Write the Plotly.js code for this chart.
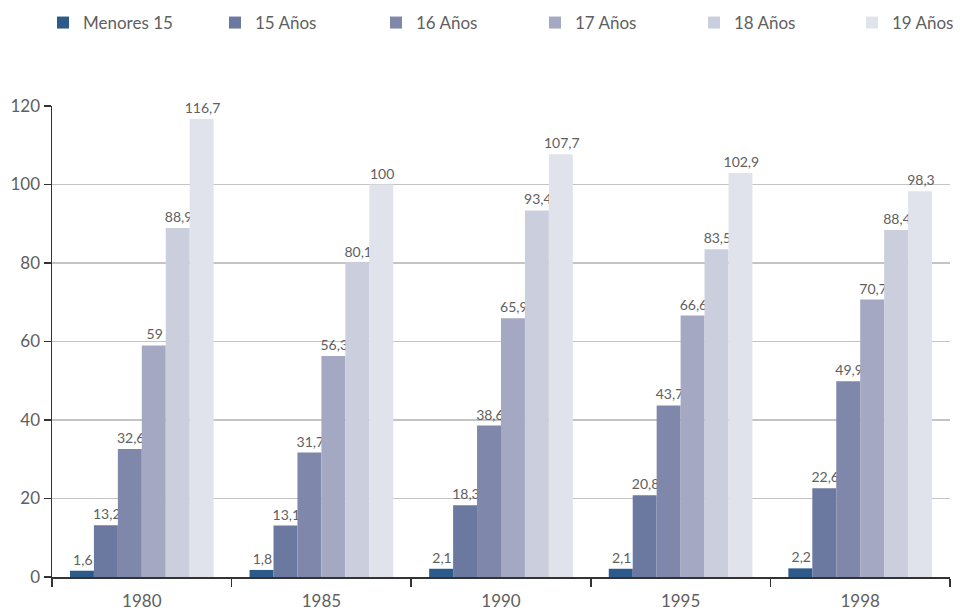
<!DOCTYPE html>
<html>
<head>
<meta charset="utf-8">
<script src="https://cdn.plot.ly/plotly-3.0.1.min.js"></script>
<style>html,body{margin:0;padding:0;background:#fff;}#chart{width:965px;height:612px;}</style>
</head>
<body>
<div id="chart"></div>
<script>
const years = ['1980', '1985', '1990', '1995', '1998'];
const seriesNames = ['Menores 15', '15 Años', '16 Años', '17 Años', '18 Años', '19 Años'];
const menores15 = [1.6, 1.8, 2.1, 2.1, 2.2];
const anos15 = [13.2, 13.1, 18.3, 20.8, 22.6];
const anos16 = [32.6, 31.7, 38.6, 43.7, 49.9];
const anos17 = [59, 56.3, 65.9, 66.6, 70.7];
const anos18 = [88.9, 80.1, 93.4, 83.5, 88.4];
const anos19 = [116.7, 100, 107.7, 102.9, 98.3];
const yTicks = [0, 20, 40, 60, 80, 100, 120];

const seriesValues = [menores15, anos15, anos16, anos17, anos18, anos19];
const colors = ['#2c5a8a', '#6b79a0', '#7f88aa', '#a4a8c2', '#cbcedd', '#e1e3ec'];
const legendLeft = [43, 215, 376, 535, 694, 852];
const fontFam = 'Lato, "Open Sans", sans-serif';
const W = 965, H = 612;

const traces = seriesValues.map((vals, i) => ({
  type: 'bar',
  name: seriesNames[i],
  legend: i === 0 ? 'legend' : 'legend' + (i + 1),
  x: years,
  y: vals,
  text: vals.map(v => '\u2009' + String(v).replace('.', ',')),
  textposition: 'outside',
  constraintext: 'none',
  cliponaxis: false,
  textfont: {family: fontFam, size: 14, color: '#606060'},
  marker: {color: colors[i], line: {width: 0}},
  hoverinfo: 'skip'
}));

const layout = {
  width: W,
  height: H,
  margin: {l: 52, r: 15, t: 106, b: 35},
  paper_bgcolor: '#fff',
  plot_bgcolor: '#fff',
  font: {family: fontFam, color: '#606060', size: 17},
  barmode: 'group',
  bargap: 0.2,
  bargroupgap: 0,
  showlegend: true,
  xaxis: {
    type: 'category',
    showline: true, linecolor: '#333', linewidth: 1.5,
    ticks: 'outside', tickson: 'boundaries', ticklen: 8, tickcolor: '#333', tickwidth: 1.5,
    ticklabelstandoff: 8,
    showgrid: false,
    tickfont: {family: fontFam, size: 17, color: '#606060'}
  },
  yaxis: {
    range: [0, 120],
    tickvals: yTicks,
    showline: true, linecolor: '#333', linewidth: 1.5,
    ticks: 'outside', ticklen: 7, tickcolor: '#333', tickwidth: 1.5,
    showgrid: true, gridcolor: '#c4c4c4', gridwidth: 1.5,
    zeroline: false,
    tickfont: {family: fontFam, size: 17, color: '#606060'}
  }
};

seriesNames.forEach((n, i) => {
  const key = i === 0 ? 'legend' : 'legend' + (i + 1);
  layout[key] = {
    orientation: 'h',
    xref: 'container', yref: 'container',
    x: legendLeft[i] / W, xanchor: 'left',
    y: 1 - 23 / H, yanchor: 'middle',
    font: {family: fontFam, size: 17, color: '#606060'},
    bgcolor: 'rgba(0,0,0,0)',
    itemclick: false
  };
});

Plotly.newPlot('chart', traces, layout, {displayModeBar: false, staticPlot: true});
</script>
</body>
</html>
